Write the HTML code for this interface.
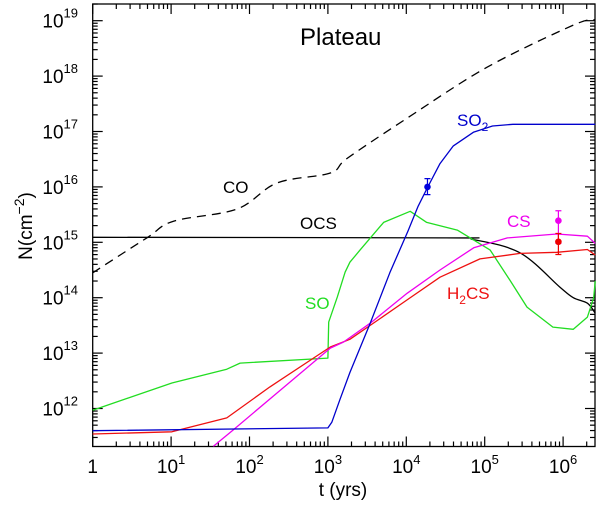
<!DOCTYPE html>
<html><head><meta charset="utf-8"><style>
html,body{margin:0;padding:0;background:#fff;}
svg{display:block;font-family:"Liberation Sans","DejaVu Sans",sans-serif;}
</style></head><body>
<svg id="chart" width="600" height="506" viewBox="0 0 600 506" xmlns="http://www.w3.org/2000/svg">
<g id="plot"></g>
</svg>
<script>
const xTickExps = [0,1,2,3,4,5,6];
const yTickExps = [12,13,14,15,16,17,18,19];
const coT = [0,0.69,1.03,1.84,2.35,3.03,3.25,4.01,5.03,6.13,6.41];
const coN = [14.45,15.08,15.38,15.6,16.07,16.25,16.52,17.24,18.16,18.92,19.02];
const ocsT = [0,4.5,4.85,5.45,5.96,6.13,6.31,6.41];
const ocsN = [15.09,15.08,15.05,14.81,14.19,14.0,13.9,13.72];
const so2T = [0,3.0,3.05,3.15,3.28,3.54,3.79,4.02,4.15,4.27,4.43,4.6,4.86,5.1,5.36,6.41];
const so2N = [11.6,11.65,11.75,12.15,12.65,13.54,14.45,15.2,15.65,15.99,16.42,16.74,16.99,17.1,17.13,17.13];
const soT = [0,1.01,1.71,1.88,3.0,3.01,3.12,3.22,3.28,3.41,3.71,4.05,4.26,4.65,5.07,5.32,5.54,5.87,6.13,6.31,6.39,6.41];
const soN = [11.97,12.46,12.71,12.82,12.91,13.56,14.01,14.46,14.64,14.86,15.36,15.56,15.36,15.22,14.86,14.32,13.83,13.47,13.43,13.65,14.0,14.3];
const h2csT = [0,1.01,1.71,2.26,3.03,3.28,3.54,4.01,4.43,4.94,5.45,5.92,6.31,6.41];
const h2csN = [11.54,11.58,11.83,12.39,13.11,13.25,13.5,13.96,14.37,14.7,14.8,14.82,14.87,14.77];
const csT = [1.54,1.79,3.03,3.2,3.54,4.01,4.43,4.86,5.29,5.92,6.31,6.41];
const csN = [11.32,11.61,13.09,13.2,13.54,14.08,14.5,14.9,15.08,15.15,15.11,14.98];
const obsT = [4.27,5.94,5.94];
const obsN = [16.0,15.39,15.01];
const obsLo = [15.86,14.98,14.78];
const obsHi = [16.15,15.57,15.16];
const obsColors = ['#0000dd','#ee00ee','#ee0000'];

const X0=92.7, XS=78.4, Y0=20.7, YS=55.4;
const L=92.7,R=595,T=4,B=446.5;
function xs(lt){return X0+XS*lt;}
function ys(ln){return Y0+YS*(19-ln);}
const NS='http://www.w3.org/2000/svg';
const g=document.getElementById('plot');
function el(tag,attrs,parent){const e=document.createElementNS(NS,tag);for(const k in attrs)e.setAttribute(k,attrs[k]);(parent||g).appendChild(e);return e;}

const frame=el('rect',{x:L,y:T,width:R-L,height:B-T,fill:'none',stroke:'#000','stroke-width':1.3});



for(let d=0; d<=6; d++){
  for(let m=1;m<=9;m++){
    const lt=d+Math.log10(m); const x=xs(lt); if(x>R) continue;
    const len=m===1?10:5;
    const tb=el('line',{x1:x,y1:B,x2:x,y2:B-len,stroke:'#000','stroke-width':1.2});
    
    
    const tt=el('line',{x1:x,y1:T,x2:x,y2:T+len,stroke:'#000','stroke-width':1.2});
    
    
  }
}
xTickExps.forEach(e=>{
  const t=el('text',{x:xs(e),y:473,'font-size':19,'text-anchor':'middle',fill:'#000'});
  
  
  if(e===0){t.textContent='1';}
  else{t.textContent='10';const s=el('tspan',{dy:-9,'font-size':13},t);s.textContent=String(e);}
});
for(let d=11; d<=19; d++){
  for(let m=1;m<=9;m++){
    const ln=d+Math.log10(m); const y=ys(ln); if(y>B||y<T) continue;
    const len=m===1?10:5;
    const tl=el('line',{x1:L,y1:y,x2:L+len,y2:y,stroke:'#000','stroke-width':1.2});
    
    
    const tr=el('line',{x1:R,y1:y,x2:R-len,y2:y,stroke:'#000','stroke-width':1.2});
    
    
  }
}
yTickExps.forEach(e=>{
  const t=el('text',{x:78,y:ys(e)+7,'font-size':19,'text-anchor':'end',fill:'#000'});
  
  
  t.textContent='10';
  const s=el('tspan',{dy:-10,'font-size':13},t);s.textContent=String(e);
});

function pathD(P,smooth){
  if(!smooth) return P.map((p,i)=>(i?'L':'M')+p[0].toFixed(1)+','+p[1].toFixed(1)).join(' ');
  let d='M'+P[0][0].toFixed(1)+','+P[0][1].toFixed(1);
  for(let i=0;i<P.length-1;i++){
    const p0=P[Math.max(0,i-1)],p1=P[i],p2=P[i+1],p3=P[Math.min(P.length-1,i+2)];
    const c1=[p1[0]+(p2[0]-p0[0])/6,p1[1]+(p2[1]-p0[1])/6];
    const c2=[p2[0]-(p3[0]-p1[0])/6,p2[1]-(p3[1]-p1[1])/6];
    d+=` C${c1[0].toFixed(1)},${c1[1].toFixed(1)} ${c2[0].toFixed(1)},${c2[1].toFixed(1)} ${p2[0].toFixed(1)},${p2[1].toFixed(1)}`;
  }
  return d;
}
function series(T_,N_,color,name,dash,smooth){
  const P=T_.map((t,i)=>[xs(t),ys(N_[i])]);
  const p=el('path',{d:pathD(P,smooth),fill:'none',stroke:color,'stroke-width':1.3,'stroke-linejoin':'round'});
  if(dash)p.setAttribute('stroke-dasharray',dash);
  
  
}
series(coT,coN,'#000','co-line','9,6',true);
series(ocsT,ocsN,'#000','ocs-line',null,true);
series(soT,soN,'#22dd22','so-line',null,false);
series(h2csT,h2csN,'#ee1111','h2cs-line',null,false);
series(csT,csN,'#ee00ee','cs-line',null,false);
series(so2T,so2N,'#0000cc','so2-line',null,false);

obsT.forEach((t,i)=>{
  const x=xs(t),c=obsColors[i];
  const b=el('path',{d:`M${x},${ys(obsLo[i])}V${ys(obsHi[i])}M${x-3},${ys(obsLo[i])}h6M${x-3},${ys(obsHi[i])}h6`,stroke:c,'stroke-width':1.2,fill:'none'});
  
  
  const p=el('circle',{cx:x,cy:ys(obsN[i]),r:3.3,fill:c});
  
  
});

function label(txt,x,y,color,name,sub,rest,size){
  const t=el('text',{x:x,y:y,'font-size':size||17,fill:color});
  
  
  t.textContent=txt;
  if(sub){const s=el('tspan',{dy:5,'font-size':12},t);s.textContent=sub;
    const r=el('tspan',{dy:-5},t);r.textContent=rest||'';}
  return t;
}
label('Plateau',300,45,'#000','chart-title',null,null,24);
label('CO',223,193,'#000','co-label');
label('OCS',300,229,'#000','ocs-label');
label('SO',457,126,'#0000cc','so2-label','2','');
label('CS',507,227,'#ee00ee','cs-label');
label('SO',305,309,'#22dd22','so-label');
label('H',447,299,'#ee1111','h2cs-label','2','CS');

const xt=el('text',{x:343,y:496,'font-size':19,'text-anchor':'middle',fill:'#000'});


xt.textContent='t (yrs)';
const yt=el('text',{x:0,y:0,'font-size':19,'text-anchor':'middle',fill:'#000',transform:'translate(32,226) rotate(-90)'});


yt.textContent='N(cm';
const ys1=el('tspan',{dy:-8,'font-size':14},yt);ys1.textContent='−2';
const ys2=el('tspan',{dy:8},yt);ys2.textContent=')';
</script>
</body></html>
